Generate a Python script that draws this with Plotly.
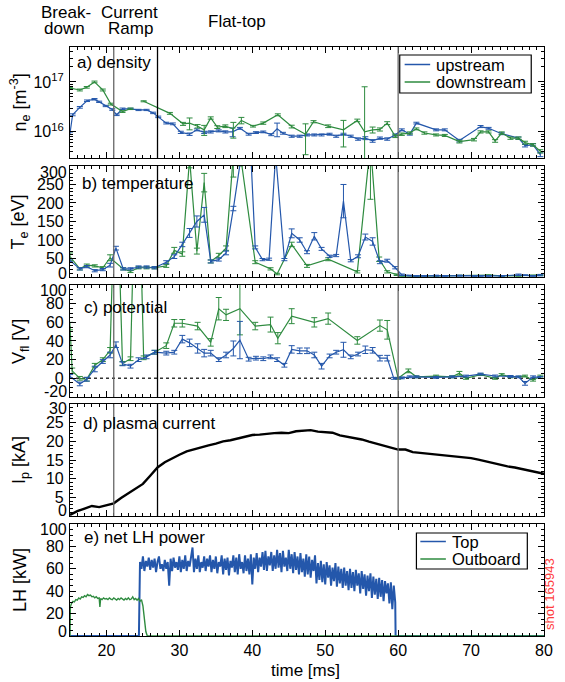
import plotly.graph_objects as go
from plotly.subplots import make_subplots

BLUE = '#2457ab'
GREEN = '#2e8b3f'
FONT = 'Liberation Sans, Arial, sans-serif'

# ---------------- a) density (units of 1e16 m^-3) ----------------
ne_up_t = [15.0, 15.36, 16.35, 17.33, 18.36, 19.0, 19.9, 20.8, 21.4, 22.2, 23.3, 24.4, 25.5, 26.4, 27.1,
           28.2, 29.1, 30.2, 31.4, 32.4, 33.4, 34.3, 35.4, 36.3, 37.3, 38.3, 39.5, 40.5, 41.5, 42.6,
           43.4, 44.2, 45.4, 46.5, 47.5, 48.5, 49.5, 50.6, 51.5, 52.5, 53.5, 54.5, 55.5, 56.5, 57.5,
           58.5, 59.6, 60.5, 61.6, 62.5, 65.2, 66.4, 68.4, 71.3, 72.4, 74.2, 76.5, 77.4, 78.5, 79.5]
ne_up = [0.94, 2.2, 3.1, 4.2, 4.5, 4.0, 3.3, 2.8, 2.2, 2.9, 2.9, 2.75, 2.75, 2.4, 2.0,
         1.5, 1.45, 0.98, 0.9, 1.1, 0.98, 1.0, 1.05, 1.0, 1.0, 1.18, 0.9, 0.97, 1.0, 0.88,
         1.15, 0.94, 0.82, 0.82, 0.87, 0.87, 0.87, 0.9, 0.82, 0.9, 0.82, 0.72, 0.75, 0.66, 0.75,
         0.72, 0.87, 1.1, 0.9, 1.5, 1.1, 1.1, 0.67, 1.28, 1.18, 0.92, 0.75, 0.53, 0.55, 0.35]
ne_up_err = [0.05, 0.1, 0.12, 0.15, 0.15, 0.12, 0.1, 0.1, 0.08, 0.1, 0.08, 0.08, 0.08, 0.08, 0.07,
             0.06, 0.06, 0.05, 0.05, 0.05, 0.05, 0.05, 0.05, 0.05, 0.2, 0.05, 0.04, 0.04, 0.04, 0.04,
             0.35, 0.04, 0.04, 0.04, 0.04, 0.04, 0.04, 0.04, 0.04, 0.04, 0.04, 0.04, 0.05, 0.04, 0.04,
             0.04, 0.04, 0.05, 0.04, 0.06, 0.05, 0.05, 0.04, 0.06, 0.05, 0.04, 0.04, 0.03, 0.03, 0.03]

ne_dn_t = [15.0, 16.35, 17.3, 18.36, 19.5, 20.6, 22.2, 23.3, 24.2, 25.1, 28.7, 30.5, 31.4, 32.5, 33.4,
           34.3, 35.2, 36.3, 37.4, 38.5, 40.1, 41.5, 43.5, 45.4, 47.3, 48.4, 50.4, 52.5, 54.4, 55.4,
           56.5, 57.5, 58.5, 59.6, 60.5, 61.6, 62.5, 63.6, 65.2, 66.4, 68.4, 70.4, 71.3, 72.4, 73.3,
           74.2, 75.4, 76.5, 77.4, 78.5, 79.5]
ne_dn = [7.5, 6.9, 7.8, 10.0, 6.9, 3.6, 2.55, 2.9, None, 4.1, 2.35, 1.45, 1.5, 1.3, 1.1,
         1.9, 1.25, 1.3, 1.15, 1.7, 1.3, 1.5, 2.2, 1.28, 0.9, 1.6, 1.3, 1.1, 1.7, 1.0,
         1.1, 1.12, 1.5, 0.82, 0.9, 0.95, 1.15, 0.95, 0.87, 0.85, 0.64, 0.7, 1.0, 1.0, 0.66,
         0.95, 0.75, 0.75, 0.61, 0.55, 0.41]
ne_dn_err = [0.3, 0.3, 0.3, 0.4, 0.3, 0.15, 0.1, 0.1, 0, 0.1, 0.1, 0.1, 0.4, 0.1, 0.25,
             0.1, 0.08, 0.08, 0.4, 0.25, 0.05, 0.08, 0.1, 0.08, 0.55, 0.08, 0.08, 0.6, 0.1, 7.0,
             0.15, 0.08, 0.1, 0.05, 0.05, 0.05, 0.05, 0.05, 0.04, 0.04, 0.04, 0.04, 0.05, 0.05, 0.04,
             0.05, 0.04, 0.04, 0.04, 0.03, 0.03]
ne_dn_errm = [0.3, 0.3, 0.3, 0.4, 0.3, 0.15, 0.1, 0.1, 0, 0.1, 0.1, 0.1, 0.4, 0.1, 0.25,
              0.1, 0.08, 0.08, 0.4, 0.25, 0.05, 0.08, 0.1, 0.08, 0.55, 0.08, 0.08, 0.6, 0.1, 0.97,
              0.15, 0.08, 0.1, 0.05, 0.05, 0.05, 0.05, 0.05, 0.04, 0.04, 0.04, 0.04, 0.05, 0.05, 0.04,
              0.05, 0.04, 0.04, 0.04, 0.03, 0.03]

# ---------------- b) temperature [eV] ----------------
te_up_t = [15.0, 16.35, 17.3, 18.4, 19.5, 20.5, 21.3, 22.3, 23.3, 24.4, 25.5, 26.6, 28.2, 29.3, 30.4,
           31.4, 32.4, 33.4, 34.3, 35.4, 36.4, 37.4, 38.5, 39.8, 40.4, 41.4, 42.3, 43.2, 44.4, 45.4,
           46.5, 47.5, 48.5, 49.5, 50.6, 51.5, 52.5, 53.5, 54.5, 55.5, 56.5, 57.5, 58.5, 59.6, 60.5,
           61.6, 62.5, 63.6, 65.2, 66.4, 68.4, 70.4, 71.3, 72.4, 74.2, 76.5, 77.4, 78.5, 79.5]
te_up = [45, 22, 28, 17, 20, 32, 78, 22, 22, 27, 27, 25, 40, 55, 88,
         119, 150, 168, 42, 47, 65, 185, 330, 330, 80, 47, 48, 330, 47, 118,
         100, 67, 110, 76, 56, 58, 205, 44, 56, 108, 96, 40, 44, 25, 6,
         4, 3, 3, 4, 3, 4, 3, 3, 3, 3, 6, 5, 3, 5]
te_up_err = [4, 3, 3, 3, 3, 5, 5, 3, 3, 3, 3, 3, 4, 5, 6,
             12, 15, 20, 4, 4, 5, 6, 10, 10, 4, 3, 3, 10, 3, 12,
             6, 4, 10, 4, 3, 3, 45, 3, 4, 8, 10, 4, 4, 3, 2,
             1, 1, 1, 1, 1, 1, 1, 1, 1, 1, 2, 1, 1, 2]

te_dn_t = [15.0, 16.35, 17.3, 18.4, 19.5, 20.5, 22.3, 23.3, 24.4, 25.5, 26.6, 28.2, 29.3, 30.4, 31.4,
           32.4, 33.4, 34.3, 35.4, 36.4, 37.4, 38.3, 40.4, 42.5, 43.4, 45.4, 47.5, 50.4, 54.4, 56.2,
           57.4, 58.5, 59.8, 60.5, 62.5, 65.2, 68.4, 70.4, 72.4, 74.2, 76.5, 78.5, 79.5]
te_dn = [55, 22, 32, 30, 25, 52, 22, 15, 25, 25, 25, 30, 72, 62, 320,
         70, 255, 42, 58, 78, 330, 340, 40, 22, 8, 88, 30, 48, 14, 360,
         48, 14, 6, 3, 2, 3, 4, 3, 5, 3, 3, 4, 5]
te_dn_err = [10, 3, 3, 3, 3, 8, 3, 3, 3, 3, 3, 4, 8, 6, 25,
             8, 25, 4, 6, 6, 60, 40, 4, 3, 2, 6, 4, 4, 3, 150,
             6, 3, 2, 1, 1, 1, 1, 1, 1, 1, 1, 1, 1]

# ---------------- c) floating potential [V] ----------------
vf_up_t = [15.0, 16.35, 17.3, 18.4, 19.5, 20.5, 21.3, 22.2, 23.3, 24.4, 25.5, 26.6, 28.2, 29.3, 30.4,
           31.4, 32.5, 33.4, 34.3, 35.4, 36.4, 37.4, 38.3, 39.5, 40.5, 41.5, 42.5, 43.4, 44.4, 45.4,
           46.5, 47.5, 48.5, 49.5, 50.6, 51.5, 52.5, 53.5, 54.5, 55.5, 56.5, 57.5, 58.5, 59.4, 60.5,
           61.6, 62.5, 65.2, 67.4, 69.3, 71.3, 73.3, 75.4, 76.5, 77.4, 78.5, 79.5]
vf_up = [2, -6, -1, 10, 18, 25, 36, 15.5, 13, 20, 23, 28, 27, 28, 42,
         38, 32, 27, 27, 20, 25, 32, 41, 20.5, 21.6, 21, 23, 20, 14, 31,
         29.5, 29.5, 25, 13, 24, 28, 30.6, 23, 26, 30.6, 30, 21.6, 21.6, 0, 0.5,
         1.6, 1.6, 1, 1.6, 2.4, 4.6, 2.5, 2, 1.6, -5.4, 1.6, 1.0]
vf_up_err = [2, 2, 2, 3, 2, 3, 3, 2, 2, 2, 2, 2, 2, 2, 4,
             4, 5, 4, 3, 2, 3, 8, 20, 2, 2, 2, 2, 2, 2, 4,
             3, 3, 3, 3, 2, 2, 8, 2, 2, 4, 3, 3, 3, 1, 1,
             1, 1, 1, 1, 1, 1, 1, 1, 1, 2, 1, 1]

vf_dn_t = [15.0, 15.3, 16.35, 17.3, 18.4, 19.5, 20.5, 21.3, 22.2, 23.3, 24.2, 25.1, 26.6, 28.2, 29.3,
           30.4, 32.5, 34.3, 35.4, 36.4, 38.3, 40.4, 42.5, 43.5, 45.4, 48.5, 50.4, 54.4, 57.5, 58.5,
           60.0, 61.4, 62.5, 65.2, 67.4, 68.4, 69.3, 71.3, 73.3, 74.2, 75.4, 77.4, 78.5, 79.5]
vf_dn = [56, 8, 0, -1, 14, 20, 30, 250, 16, 21, 300, 22, 28, 35, 59,
         59, 56, 38.5, 74.6, 68, 74.6, 56, 57.6, 43, 66.6, 60, 64, 40.6, 56.5, 52,
         0, 8, 1.6, 2.4, 1.6, 5.4, 0, 4, 0, 4, 1.6, 2.4, -2, 2.4]
vf_dn_err = [4, 3, 2, 2, 2, 2, 3, 20, 2, 2, 20, 2, 2, 3, 4,
             4, 4, 4, 12, 6, 28, 4, 8, 6, 8, 5, 6, 4, 6, 10,
             1, 2, 1, 1, 1, 2, 1, 1, 1, 1, 1, 1, 1, 1]

# ---------------- d) plasma current [kA], 1 ms samples from 15 ms ----------------
ip_t0 = 15.0
ip = [0.3, 1.3, 2.0, 2.7, 2.4, 2.9, 3.4, 4.8, 6.0, 7.3, 8.6, 10.8, 13.0, 14.4, 15.5,
      16.4, 17.3, 17.9, 18.4, 18.9, 19.4, 20.0, 20.3, 20.8, 21.3, 21.7, 21.8, 22.1, 22.2, 22.3,
      22.2, 22.7, 22.9, 23.0, 22.6, 22.4, 22.3, 21.6, 21.2, 21.0, 20.5, 19.9, 19.4, 18.9, 18.3,
      17.8, 17.8, 17.1, 16.9, 16.7, 16.5, 16.3, 16.1, 16.0, 15.8, 15.5, 15.1, 14.6, 14.1, 13.7,
      13.3, 13.0, 12.6, 12.2, 11.8, 11.3]

# ---------------- e) net LH power [kW] ----------------
# Top launcher: 0.2 ms samples starting at 24.6 ms
lh_top_t0 = 24.6
lh_top = [66, 60, 71, 58, 67, 62, 70, 59, 68, 61, 69, 57, 66, 71, 60, 64, 58, 68, 60, 66,
          45, 69, 58, 70, 61, 66, 59, 71, 57, 68, 60, 72, 58, 67, 62, 70, 79, 57, 69, 60,
          72, 57, 66, 61, 71, 58, 69, 62, 72, 57, 68, 60, 71, 56, 66, 62, 72, 55, 69, 59,
          70, 54, 67, 61, 72, 57, 70, 55, 73, 60, 66, 56, 72, 58, 69, 55, 73, 46, 70, 60,
          74, 57, 70, 62, 75, 59, 76, 58, 71, 63, 75, 58, 72, 60, 77, 61, 74, 57, 76, 62,
          70, 58, 77, 60, 73, 56, 75, 59, 71, 55, 74, 57, 69, 53, 73, 55, 71, 52, 68, 58,
          72, 47, 65, 50, 67, 48, 64, 46, 66, 52, 63, 45, 61, 49, 65, 44, 62, 47, 60, 43,
          61, 45, 58, 41, 60, 43, 57, 40, 59, 45, 56, 38, 58, 42, 55, 36, 54, 40, 56, 34,
          53, 37, 51, 33, 52, 35, 50, 31, 49, 38, 47, 29, 48, 24, 45, 30]
lh_top_pre_t = [15.0, 24.45]
lh_top_post_t = [59.65, 80.0]
lh_off = [0, 0]

lh_out_t = [15.0, 15.05, 15.2, 15.4, 15.6, 15.8, 16.0, 16.2, 16.4, 16.6, 16.8, 17.0, 17.2, 17.4, 17.6,
            17.8, 18.0, 18.2, 18.4, 18.6, 18.8, 19.0, 19.1, 19.2, 19.4, 19.6, 19.8, 20.0, 20.2, 20.4,
            20.6, 20.8, 21.0, 21.2, 21.4, 21.6, 21.8, 22.0, 22.2, 22.4, 22.6, 22.8, 23.0, 23.2, 23.4,
            23.6, 23.8, 24.0, 24.2, 24.4, 24.6, 24.8, 25.0, 25.2, 25.4, 25.6, 80.0]
lh_out = [0, 26, 29, 31, 30.5, 32.5, 32, 34, 33, 35, 34.5, 36, 35, 37, 36,
          36.5, 35, 35.5, 34, 35, 33.5, 34, 26, 33.5, 32.5, 34, 33, 33.5, 32.5, 34,
          33, 32.5, 34, 33, 32, 33.5, 32.5, 34, 33, 32, 33.5, 32.5, 34, 32.5, 33,
          35, 32.5, 33.5, 32, 33.5, 31, 32.5, 27, 14, 4, 0, 0]

phase_lines = [(21, '#666666'), (27, '#000000'), (60, '#666666')]

# ------------------------------------------------------------------
def scale(vals, k):
    return [None if v is None else v * k for v in vals]

def errbar(arr, color, arrm=None):
    d = dict(type='data', array=arr, color=color, thickness=1, width=3, visible=True)
    if arrm is not None:
        d['symmetric'] = False
        d['arrayminus'] = arrm
    return d

fig = make_subplots(rows=5, cols=1, shared_xaxes=True, vertical_spacing=0.01)

E16 = 1e16
fig.add_trace(go.Scatter(x=ne_up_t, y=scale(ne_up, E16), mode='lines', name='upstream',
                         line=dict(color=BLUE, width=1.2),
                         error_y=errbar(scale(ne_up_err, E16), BLUE)), row=1, col=1)
fig.add_trace(go.Scatter(x=ne_dn_t, y=scale(ne_dn, E16), mode='lines', name='downstream',
                         line=dict(color=GREEN, width=1.2), connectgaps=False,
                         error_y=errbar(scale(ne_dn_err, E16), GREEN, scale(ne_dn_errm, E16))),
              row=1, col=1)

fig.add_trace(go.Scatter(x=te_dn_t, y=te_dn, mode='lines', name='downstream',
                         line=dict(color=GREEN, width=1.2), error_y=errbar(te_dn_err, GREEN)), row=2, col=1)
fig.add_trace(go.Scatter(x=te_up_t, y=te_up, mode='lines', name='upstream',
                         line=dict(color=BLUE, width=1.2), error_y=errbar(te_up_err, BLUE)), row=2, col=1)

fig.add_trace(go.Scatter(x=vf_dn_t, y=vf_dn, mode='lines', name='downstream',
                         line=dict(color=GREEN, width=1.2), error_y=errbar(vf_dn_err, GREEN)), row=3, col=1)
fig.add_trace(go.Scatter(x=vf_up_t, y=vf_up, mode='lines', name='upstream',
                         line=dict(color=BLUE, width=1.2), error_y=errbar(vf_up_err, BLUE)), row=3, col=1)

ip_t = [ip_t0 + i for i in range(len(ip))]
fig.add_trace(go.Scatter(x=ip_t, y=ip, mode='lines', name='Ip',
                         line=dict(color='black', width=2.4)), row=4, col=1)

top_t = lh_top_pre_t + [round(lh_top_t0 + 0.2 * i, 2) for i in range(len(lh_top))] + lh_top_post_t
top_v = lh_off + lh_top + lh_off
fig.add_trace(go.Scatter(x=top_t, y=top_v, mode='lines', name='Top',
                         line=dict(color=BLUE, width=2.0)), row=5, col=1)
fig.add_trace(go.Scatter(x=lh_out_t, y=lh_out, mode='lines', name='Outboard',
                         line=dict(color=GREEN, width=1.4)), row=5, col=1)

# ---------------- axes ----------------
TICKFONT = dict(family=FONT, size=16, color='black')
domains = [[0.8115, 1.0], [0.6095, 0.7980], [0.4058, 0.5959], [0.2037, 0.3939], [0.0, 0.1902]]
axcommon = dict(showline=True, linecolor='black', linewidth=1.2, mirror='allticks',
                ticks='inside', ticklen=6, tickwidth=1, tickcolor='black', showgrid=False,
                zeroline=False, tickfont=TICKFONT)
for r in range(1, 6):
    fig.update_xaxes(range=[15, 80], dtick=10, tick0=0,
                     minor=dict(ticks='inside', ticklen=3, dtick=1, tick0=0, tickcolor='black', showgrid=False),
                     showticklabels=(r == 5), row=r, col=1, **axcommon)
    fig.update_yaxes(domain=domains[r - 1], ticklabelstandoff=2, row=r, col=1, **axcommon)

def mid_labels(vals):
    return [''] + [str(v) for v in vals[1:-1]] + ['']

b_ticks = [0, 50, 100, 150, 200, 250, 300]
c_ticks = [-20, 0, 20, 40, 60, 80, 100]
d_ticks = [0, 5, 10, 15, 20, 25, 30]
e_ticks = [0, 20, 40, 60, 80, 100]

log_minor = [k * 1e15 for k in range(3, 10)] + [k * 1e16 for k in range(2, 10)] + [k * 1e17 for k in range(2, 6)]
fig.update_yaxes(type='log', range=[15.477, 17.699], tickvals=[1e16, 1e17],
                 ticktext=['10<sup>16</sup>', '10<sup>17</sup>'],
                 minor=dict(ticks='inside', ticklen=3, tickvals=log_minor, tickcolor='black', showgrid=False),
                 row=1, col=1)
fig.update_yaxes(range=[0, 300], tickvals=b_ticks, ticktext=mid_labels(b_ticks),
                 minor=dict(ticks='inside', ticklen=3, dtick=10, tick0=0, tickcolor='black', showgrid=False), row=2, col=1)
fig.update_yaxes(range=[-20, 100], tickvals=c_ticks, ticktext=mid_labels(c_ticks),
                 minor=dict(ticks='inside', ticklen=3, dtick=5, tick0=0, tickcolor='black', showgrid=False), row=3, col=1)
fig.update_yaxes(range=[0, 30], tickvals=d_ticks, ticktext=mid_labels(d_ticks),
                 minor=dict(ticks='inside', ticklen=3, dtick=1, tick0=0, tickcolor='black', showgrid=False), row=4, col=1)
fig.update_yaxes(range=[0, 100], tickvals=e_ticks, ticktext=mid_labels(e_ticks),
                 minor=dict(ticks='inside', ticklen=3, dtick=5, tick0=0, tickcolor='black', showgrid=False), row=5, col=1)

# ---------------- helpers (reference pixel -> paper) ----------------
def pix_x(px):
    return (px - 70) / 483.0

def pix_y(py):
    return (636 - py) / 589.0

# ---------------- shapes ----------------
shapes = []
yrefs = ['y', 'y2', 'y3', 'y4']
xrefs = ['x', 'x2', 'x3', 'x4']
for xr, yr in zip(xrefs, yrefs):
    for xv, col in phase_lines:
        shapes.append(dict(type='line', xref=xr, yref=yr + ' domain', x0=xv, x1=xv, y0=0, y1=1,
                           line=dict(color=col, width=1.3), layer='above'))
shapes.append(dict(type='line', xref='x3', yref='y3', x0=15, x1=80, y0=0, y1=0,
                   line=dict(color='#333333', width=1.5, dash='dot'), layer='below'))

# legend boxes (drawn by hand to match the compact original legends)
legend_boxes = [
    dict(box=(406, 55, 540, 93), items=[('upstream', BLUE, 64.5), ('downstream', GREEN, 82)],
         line_x=(411, 437), text_x=442),
    dict(box=(423, 533, 536, 569), items=[('Top', BLUE, 541.5), ('Outboard', GREEN, 559)],
         line_x=(427, 453), text_x=458),
]
ann = []
for lg in legend_boxes:
    x0, y0, x1, y1 = lg['box']
    shapes.append(dict(type='rect', xref='paper', yref='paper', x0=pix_x(x0), x1=pix_x(x1),
                       y0=pix_y(y1), y1=pix_y(y0), line=dict(color='black', width=1.2),
                       fillcolor='white', layer='above'))
    for name, col, yy in lg['items']:
        shapes.append(dict(type='line', xref='paper', yref='paper', x0=pix_x(lg['line_x'][0]),
                           x1=pix_x(lg['line_x'][1]), y0=pix_y(yy), y1=pix_y(yy),
                           line=dict(color=col, width=1.5), layer='above'))
        ann.append(dict(text=name, xref='paper', yref='paper', x=pix_x(lg['text_x']), y=pix_y(yy),
                        xanchor='left', yanchor='middle', showarrow=False, borderpad=0,
                        font=dict(family=FONT, size=16.5, color='black')))

# ---------------- annotations ----------------
txt = dict(family=FONT, size=17, color='black')
for s, x, y in [('Break-', 66, 13), ('down', 64, 29), ('Current', 131, 13), ('Ramp', 132, 29), ('Flat-top', 240, 21)]:
    ann.append(dict(text=s, xref='paper', yref='paper', x=pix_x(x), y=pix_y(y), xanchor='center',
                    yanchor='middle', showarrow=False, borderpad=0, font=txt))

# edge tick labels, nudged inside the panel as in the original
for s, yc in [('300', 172), ('0', 273), ('100', 290), ('-20', 391), ('30', 408), ('0', 510),
              ('100', 529), ('0', 631)]:
    ann.append(dict(text=s, xref='paper', yref='paper', x=0, y=pix_y(yc), xanchor='right',
                    yanchor='middle', xshift=-2, borderpad=0, showarrow=False, font=TICKFONT))

ytitles = [('n<sub>e</sub> [m<sup>-3</sup>]', 102.5), ('T<sub>e</sub> [eV]', 221.5),
           ('V<sub>fl</sub> [V]', 341), ('I<sub>p</sub> [kA]', 460), ('LH [kW]', 580)]
for s, yc in ytitles:
    ann.append(dict(text=s, xref='paper', yref='paper', x=pix_x(19), y=pix_y(yc), xanchor='center',
                    yanchor='middle', textangle=-90, showarrow=False, font=dict(family=FONT, size=18, color='black')))

plabels = [('a) density', 'x', 'y', 0.0104, 0.856), ('b) temperature', 'x2', 'y2', 0.0207, 0.838),
           ('c) potential', 'x3', 'y3', 0.026, 0.80), ('d) plasma current', 'x4', 'y4', 0.024, 0.83),
           ('e) net LH power', 'x5', 'y5', 0.026, 0.875)]
for s, xr, yr, xx, yy in plabels:
    ann.append(dict(text=s, xref=xr + ' domain', yref=yr + ' domain', x=xx, y=yy, xanchor='left',
                    yanchor='middle', showarrow=False, font=txt))

ann.append(dict(text='time [ms]', xref='paper', yref='paper', x=pix_x(310), y=pix_y(670),
                xanchor='center', yanchor='middle', showarrow=False, font=txt))
ann.append(dict(text='shot 165943', xref='paper', yref='paper', x=pix_x(558), y=pix_y(594),
                xanchor='center', yanchor='middle', textangle=-90, showarrow=False, borderpad=0,
                font=dict(family=FONT, size=13, color='#ff3b3b')))

fig.update_layout(
    width=565, height=682,
    margin=dict(l=70, r=12, t=47, b=46),
    paper_bgcolor='white', plot_bgcolor='white',
    font=dict(family=FONT, size=17, color='black'),
    shapes=shapes, annotations=ann, showlegend=False,
)

# remove the default page margin so the figure fills the window exactly
fig.write_html('out.html', config={'displayModeBar': False},
               post_script="document.body.style.margin='0';document.body.style.overflow='hidden';")
